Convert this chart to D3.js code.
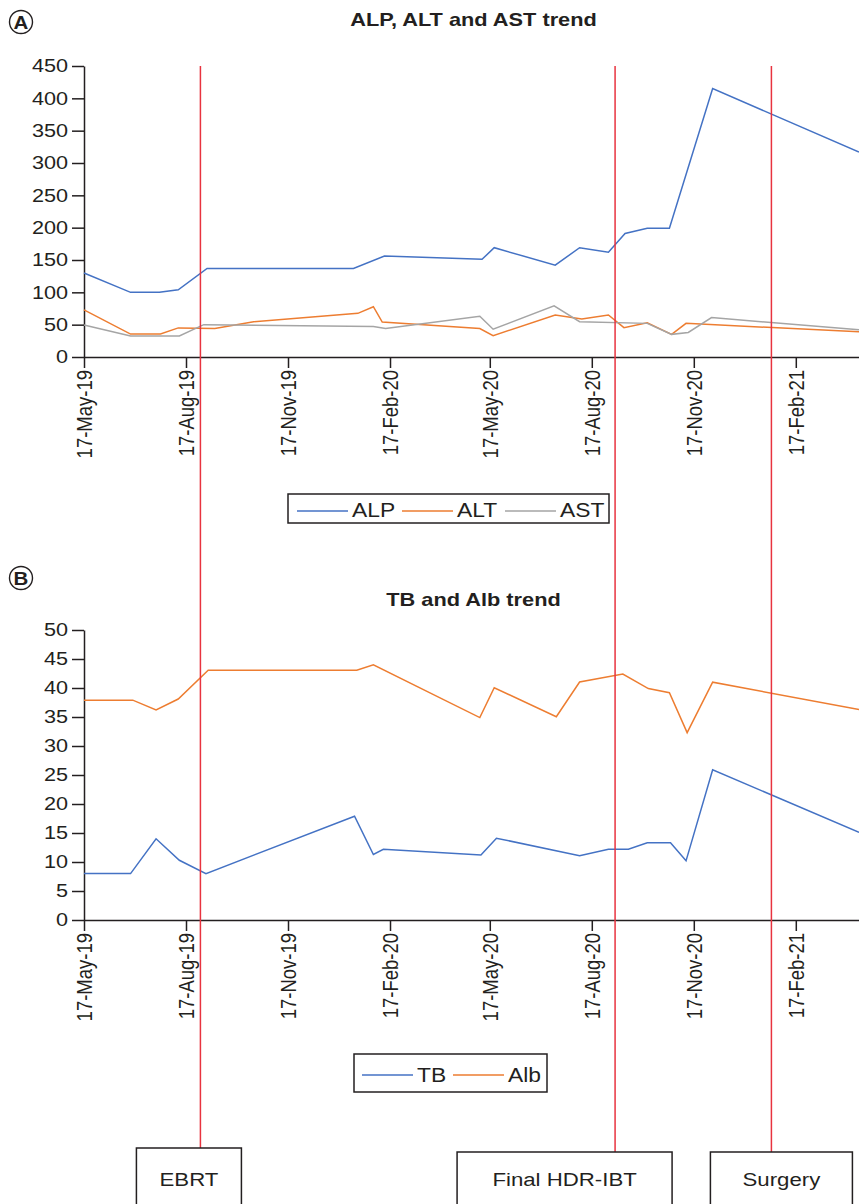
<!DOCTYPE html>
<html>
<head>
<meta charset="utf-8">
<script src="https://cdn.jsdelivr.net/npm/d3@7"></script>
<style>
  body { margin: 0; background: #fff; }
  svg { display: block; }
</style>
</head>
<body>
<div class="canvas"></div>
<script>
// ---- data ----
const alpDates = ['2019-05-17','2019-06-28','2019-07-24','2019-08-10','2019-09-05','2020-01-15','2020-02-12','2020-05-10','2020-05-21','2020-07-15','2020-08-06','2020-09-01','2020-09-16','2020-10-06','2020-10-26','2020-12-04','2021-04-15'];
const alpValues = [130,100,100,104,137,137,156,151,169,142,169,162,191,199,199,415,317];

const altDates = ['2019-05-17','2019-06-28','2019-07-25','2019-08-10','2019-09-12','2019-10-17','2020-01-19','2020-02-02','2020-02-10','2020-05-08','2020-05-20','2020-07-15','2020-08-08','2020-09-01','2020-09-15','2020-10-06','2020-10-28','2020-11-10','2021-04-15'];
const altValues = [73,35.5,35.5,45,44,54.6,67.5,77.8,54,44,33,65,58.7,65,45.4,53,35,52,39];

const astDates = ['2019-05-17','2019-06-28','2019-08-11','2019-09-02','2020-02-02','2020-02-13','2020-05-08','2020-05-20','2020-07-14','2020-08-06','2020-10-06','2020-10-28','2020-11-12','2020-12-03','2021-04-15'];
const astValues = [49.5,32.5,32.5,50,47,44,63,43,79,54.6,52,35,38,61,42];

const tbDates = ['2019-05-17','2019-06-28','2019-07-21','2019-08-11','2019-09-04','2020-01-16','2020-02-02','2020-02-11','2020-05-09','2020-05-23','2020-08-06','2020-09-01','2020-09-19','2020-10-06','2020-10-27','2020-11-10','2020-12-04','2021-04-15'];
const tbValues = [8,8,14,10.3,8,17.9,11.3,12.2,11.2,14.1,11.1,12.2,12.2,13.3,13.3,10.2,25.9,15.1];

const albDates = ['2019-05-17','2019-06-30','2019-07-21','2019-08-10','2019-09-06','2020-01-18','2020-02-02','2020-05-08','2020-05-21','2020-07-16','2020-08-06','2020-09-14','2020-10-07','2020-10-26','2020-11-11','2020-12-04','2021-04-15'];
const albValues = [37.9,37.9,36.2,38.1,43.05,43.05,44,34.9,40.05,35.05,41.03,42.4,39.9,39.2,32.3,41,36.3];

const eventNames = ['EBRT', 'Final HDR-IBT', 'Surgery'];
const eventDates = ['2019-08-30', '2020-09-07', '2021-01-26'];

const xTicks = ['2019-05-17','2019-08-17','2019-11-17','2020-02-17','2020-05-17','2020-08-17','2020-11-17','2021-02-17'];
const xDomain = ['2019-05-17', '2021-04-15'];
const yTicksA = [0,50,100,150,200,250,300,350,400,450];
const yTicksB = [0,5,10,15,20,25,30,35,40,45,50];

// ---- setup ----
const W = 859, H = 1204;
const FONT = '"Liberation Sans", Arial, Helvetica, sans-serif';
const INK = '#231f20';
const k = 1.17; // the figure's text is a little wide
const colours = { blue: '#4472c4', orange: '#ed7d31', grey: '#a5a5a5', red: '#e8333f' };

const parse = d3.timeParse('%Y-%m-%d');
const fmt = d3.timeFormat('%d-%b-%y');

const svg = d3.select('.canvas')
  .append('svg')
    .attr('width', W)
    .attr('height', H)
    .style('font-family', FONT);

const x = d3.scaleTime()
  .domain(xDomain.map(parse))
  .range([84, 859]);

const zip = (dates, vals) => dates.map((d, i) => ({ date: parse(d), v: vals[i] }));

function stretchedText(g, str, tx, ty, size, weight, anchor) {
  return g.append('g')
    .attr('transform', `translate(${tx},${ty}) scale(${k},1)`)
    .append('text')
      .attr('text-anchor', anchor || 'middle')
      .attr('font-size', size)
      .attr('font-weight', weight || 'normal')
      .attr('fill', INK)
      .text(str);
}

function panelLetter(letter, cx, cy) {
  svg.append('circle')
    .attr('cx', cx).attr('cy', cy).attr('r', 11.5)
    .attr('fill', 'none').attr('stroke', INK).attr('stroke-width', 1.4);
  stretchedText(svg, letter, cx, cy + 6.5, 17.5, 'bold');
}

function drawPanel(opt) {
  const y = d3.scaleLinear().domain(opt.yDomain).range([opt.y0, opt.y1]);

  const yAxis = d3.axisLeft(y)
    .tickValues(opt.yTicks)
    .tickSize(12)
    .tickSizeOuter(0);
  const yg = svg.append('g')
    .attr('transform', `translate(${x.range()[0]},0)`)
    .call(yAxis);
  yg.selectAll('text')
    .attr('x', -16 / k)
    .attr('transform', `scale(${k},1)`)
    .attr('font-size', 18.5)
    .attr('font-family', FONT)
    .attr('fill', INK);

  const xAxis = d3.axisBottom(x)
    .tickValues(xTicks.map(parse))
    .tickFormat(fmt)
    .tickSize(11)
    .tickSizeOuter(0);
  const xg = svg.append('g')
    .attr('transform', `translate(0,${opt.y0})`)
    .call(xAxis);
  xg.selectAll('text')
    .attr('transform', `scale(${k},1) rotate(-90)`)
    .attr('text-anchor', 'end')
    .attr('x', -13)
    .attr('y', 0)
    .attr('dy', '0.35em')
    .attr('font-size', 18.5)
    .attr('font-family', FONT)
    .attr('fill', INK);

  [yg, xg].forEach(g => {
    g.selectAll('path, line').attr('stroke', INK).attr('stroke-width', 1.5);
  });

  const line = d3.line()
    .x(d => x(d.date))
    .y(d => y(d.v));

  opt.series.forEach(s => {
    svg.append('path')
      .attr('fill', 'none')
      .attr('stroke', s.colour)
      .attr('stroke-width', 1.5)
      .attr('stroke-linejoin', 'miter')
      .attr('d', line(s.data));
  });

  stretchedText(svg, opt.title, 473.5, opt.titleY, 18.6, 'bold');

  // legend
  const lg = svg.append('g');
  lg.append('rect')
    .attr('x', opt.legend.x).attr('y', opt.legend.y)
    .attr('width', opt.legend.w).attr('height', opt.legend.h)
    .attr('fill', '#fff').attr('stroke', INK).attr('stroke-width', 1.5);
  opt.series.forEach((s, i) => {
    const lx = opt.legend.items[i];
    lg.append('line')
      .attr('x1', lx).attr('x2', lx + 51)
      .attr('y1', opt.legend.lineY).attr('y2', opt.legend.lineY)
      .attr('stroke', s.colour).attr('stroke-width', 1.5);
    stretchedText(lg, s.name, lx + 55, opt.legend.textY, 19.5, 'normal', 'start');
  });
}

// ---- panel A ----
panelLetter('A', 21, 22);
drawPanel({
  title: 'ALP, ALT and AST trend',
  titleY: 26,
  yDomain: [0, 450],
  yTicks: yTicksA,
  y0: 357, y1: 66,
  series: [
    { name: 'ALP', colour: colours.blue, data: zip(alpDates, alpValues) },
    { name: 'ALT', colour: colours.orange, data: zip(altDates, altValues) },
    { name: 'AST', colour: colours.grey, data: zip(astDates, astValues) }
  ],
  legend: { x: 288, y: 494, w: 321, h: 29, items: [297, 402, 505], lineY: 511, textY: 517 }
});

// ---- panel B ----
panelLetter('B', 21, 578);
drawPanel({
  title: 'TB and Alb trend',
  titleY: 606,
  yDomain: [0, 50],
  yTicks: yTicksB,
  y0: 920, y1: 630,
  series: [
    { name: 'TB', colour: colours.blue, data: zip(tbDates, tbValues) },
    { name: 'Alb', colour: colours.orange, data: zip(albDates, albValues) }
  ],
  legend: { x: 354, y: 1054, w: 193, h: 38, items: [362, 453], lineY: 1075, textY: 1082 }
});

// ---- treatment events ----
const boxLeft = [-64, -158, -61];
const boxWidth = [105, 215, 142];
const boxTop = [1148, 1152, 1152];

eventDates.forEach((d, i) => {
  const ex = x(parse(d));
  svg.append('line')
    .attr('x1', ex).attr('x2', ex)
    .attr('y1', 66).attr('y2', boxTop[i])
    .attr('stroke', colours.red).attr('stroke-width', 1.5);
  svg.append('rect')
    .attr('x', ex + boxLeft[i]).attr('y', boxTop[i])
    .attr('width', boxWidth[i]).attr('height', 80)
    .attr('fill', '#fff').attr('stroke', INK).attr('stroke-width', 1.5);
  stretchedText(svg, eventNames[i], ex + boxLeft[i] + boxWidth[i] / 2, 1186, 19, 'normal');
});
</script>
</body>
</html>
